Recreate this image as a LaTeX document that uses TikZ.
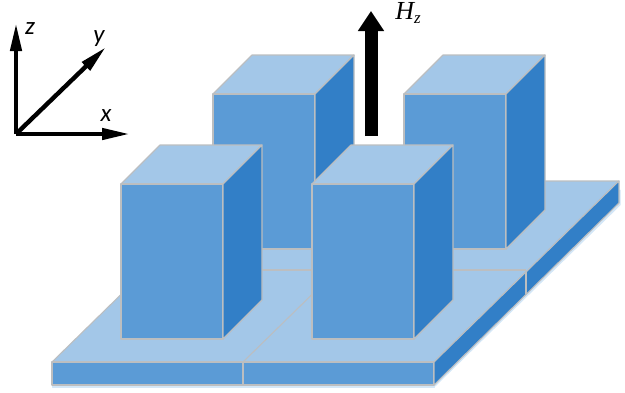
\documentclass[tikz,border=0pt]{standalone}
\usepackage{fontspec}
\newfontfamily\labelfont{Carlito}
\newfontfamily\fieldfont{Liberation Serif}
\usetikzlibrary{arrows.meta}
\definecolor{topblue}{RGB}{163,199,232}
\definecolor{frontblue}{RGB}{91,155,214}
\definecolor{sideblue}{RGB}{50,127,199}
\definecolor{edgegrey}{RGB}{188,190,192}
\definecolor{glowblue}{RGB}{212,231,247}
\tikzset{
  facetop/.style={draw=edgegrey,line width=1.1pt,fill=topblue,line join=round},
  facefront/.style={facetop,fill=frontblue},
  faceside/.style={facetop,fill=sideblue},
  seam/.style={edgegrey,line width=1.1pt},
  glow/.style={draw=glowblue,line width=1pt,fill=glowblue,line join=round},
  axis/.style={black,line width=4.4pt,-{Triangle[length=28pt,width=11pt]}},
  fieldarrow/.style={black,line width=13pt,-{Triangle[length=20pt,width=25pt]}},
  axislab/.style={font=\labelfont\itshape\fontsize{25}{25}\selectfont,inner sep=0pt},
  fieldlab/.style={font=\fieldfont\itshape\fontsize{26}{26}\selectfont,inner sep=0pt},
}

\begin{document}
\begin{tikzpicture}[x=1pt,y=-1pt]
  \useasboundingbox (0,0) rectangle (625,392);

  % plate
  \path[glow] (434,387) -- (620,205) -- (620,190) -- (434,370) -- cycle;
  \path[glow] (52,387) rectangle (434,375);
  \path[facetop] (52,362) -- (237,181) -- (619,181) -- (434,362) -- cycle;
  \path[facefront] (52,362) rectangle (434,385);
  \path[faceside] (434,362) -- (619,181) -- (619,203) -- (434,385) -- cycle;
  \draw[seam] (243,362) -- (243,385);
  \draw[seam] (526,271) -- (526,294);
  \draw[seam] (243,362) -- (428,181);
  \draw[seam] (146,270) -- (526,270);

  % pillars
  \foreach \px/\py in {213/94,404/94,121/184,312/184} {
    \path[facetop] (\px,\py) -- ({\px+39},{\py-39}) -- ({\px+141},{\py-39}) -- ({\px+102},\py) -- cycle;
    \path[facefront] (\px,\py) rectangle ({\px+102},{\py+155});
    \path[faceside] ({\px+102},\py) -- ({\px+141},{\py-39}) -- ({\px+141},{\py+116}) -- ({\px+102},{\py+155}) -- cycle;
  }

  % field arrow
  \coordinate (fieldfoot) at (371,136);
  \coordinate (fieldtip) at (371,11);
  \draw[fieldarrow] (fieldfoot) -- (fieldtip);
  \node[fieldlab] (fieldname) at (408,13) {H\raisebox{-4pt}{\fontsize{17}{17}\selectfont z}};

  % axes
  \coordinate (origin) at (16,134);
  \coordinate (xtip) at (130,134);
  \coordinate (ytip) at (106,47);
  \coordinate (ztip) at (16,23);
  \draw[axis] (origin) -- (xtip);
  \draw[axis] (origin) -- (ytip);
  \draw[axis] (origin) -- (ztip);
  \node[axislab] (xname) at (106,116) {x};
  \node[axislab] (yname) at (99,39) {y};
  \node[axislab] (zname) at (30,29) {z};
\end{tikzpicture}
\end{document}
